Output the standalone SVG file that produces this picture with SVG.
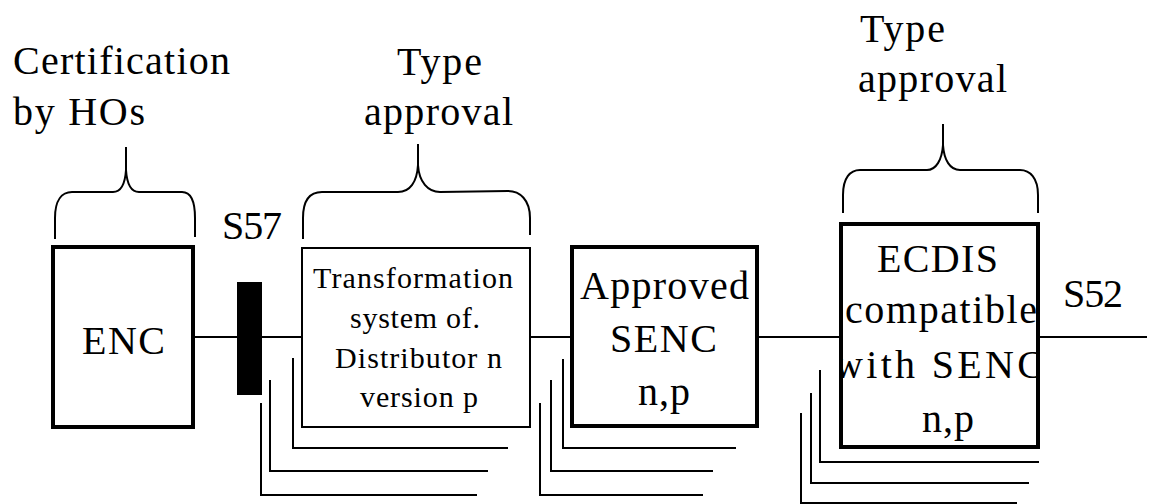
<svg xmlns="http://www.w3.org/2000/svg" width="1152" height="504" viewBox="0 0 1152 504">
<style>
text{fill:#000}
.lbl{font-size:40px}
.sm{font-size:30px}
.thick{fill:#fff;stroke:#000;stroke-width:4}
.thin{fill:#fff;stroke:#000;stroke-width:2}
.ln{fill:none;stroke:#000;stroke-width:2}
.br{fill:none;stroke:#000;stroke-width:2}
</style>
<defs>
<clipPath id="ecdisClip"><rect x="843" y="226" width="193" height="219"/></clipPath>
</defs>
<rect width="1152" height="504" fill="#fff"/>
<g id="connectors">
<line class="ln" x1="193" y1="337" x2="302" y2="337"/>
<line class="ln" x1="530" y1="337" x2="572" y2="337"/>
<line class="ln" x1="757" y1="337" x2="841" y2="337"/>
<line class="ln" x1="1038" y1="337" x2="1147" y2="337"/>
<polyline class="ln" points="293,358 293,448 508,448"/>
<polyline class="ln" points="270,380 270,471 488,471"/>
<polyline class="ln" points="261,403 261,495 477,495"/>
<polyline class="ln" points="563,359 563,448 736,448"/>
<polyline class="ln" points="551,380 551,471 713,471"/>
<polyline class="ln" points="540,403 540,495 703,495"/>
<polyline class="ln" points="820,370 820,462 1039,462"/>
<polyline class="ln" points="811,393 811,483 1029,483"/>
<polyline class="ln" points="801,413 801,503 1017,503"/>
</g>
<g font-family="'Liberation Serif', 'Times New Roman', 'DejaVu Serif', serif">
<g id="label-certification">
<text class="lbl" x="13" y="74" textLength="217" lengthAdjust="spacing">Certification</text>
<text class="lbl" x="13" y="125" textLength="132" lengthAdjust="spacing">by HOs</text>
<path class="br" d="M55,239 L55,218 C55,200 62,192 72,192 L113,192 C120,192 125,185 126,170 L126,147 M126,170 C127,185 132,192 139,192 L182,192 C190,192 195,200 195,218 L195,237"/>
</g>
<g id="label-type-approval-1">
<text class="lbl" x="397" y="75" textLength="85" lengthAdjust="spacing">Type</text>
<text class="lbl" x="364" y="125" textLength="149" lengthAdjust="spacing">approval</text>
<path class="br" d="M303,239 L303,218 C303,200 310,192 322,192 L398,192 C410,192 417,182 418,165 L418,144 M418,165 C419,182 428,192 440,192 L508,191 C520,191 530,200 530,218 L530,235"/>
</g>
<g id="label-type-approval-2">
<text class="lbl" x="860" y="42" textLength="85" lengthAdjust="spacing">Type</text>
<text class="lbl" x="858" y="92" textLength="149" lengthAdjust="spacing">approval</text>
<path class="br" d="M843,213 L843,195 C843,178 850,170 860,170 L927,170 C936,170 942,160 943,145 L943,124 M943,145 C944,160 950,170 960,170 L1020,170 C1030,170 1038,178 1038,195 L1038,213"/>
</g>
<g id="node-enc">
<rect class="thick" x="53" y="247" width="140" height="180"/>
<text class="lbl" x="82" y="354" textLength="83" lengthAdjust="spacing">ENC</text>
</g>
<g id="node-s57">
<rect x="237" y="282" width="25" height="113" fill="#000"/>
<text class="lbl" x="222" y="239" textLength="60" lengthAdjust="spacing" font-size="38">S57</text>
</g>
<g id="node-transformation">
<rect class="thin" x="302" y="248" width="228" height="179"/>
<text class="sm" x="313" y="288" textLength="200" lengthAdjust="spacing">Transformation</text>
<text class="sm" x="350" y="328" textLength="130" lengthAdjust="spacing">system of.</text>
<text class="sm" x="335" y="368" textLength="167" lengthAdjust="spacing">Distributor n</text>
<text class="sm" x="360" y="407" textLength="118" lengthAdjust="spacing">version p</text>
</g>
<g id="node-senc">
<rect class="thick" x="572" y="247" width="185" height="179"/>
<text class="lbl" x="580" y="299" textLength="169" lengthAdjust="spacing">Approved</text>
<text class="lbl" x="610" y="352" textLength="107" lengthAdjust="spacing">SENC</text>
<text class="lbl" x="638" y="405" textLength="52" lengthAdjust="spacing">n,p</text>
</g>
<g id="node-ecdis">
<rect class="thick" x="841" y="224" width="197" height="223"/>
<text class="lbl" x="877" y="272" textLength="121" lengthAdjust="spacing">ECDIS</text>
<text class="lbl" x="845" y="323" textLength="192" lengthAdjust="spacing">compatible</text>
<text class="lbl" x="834" y="378" textLength="210" lengthAdjust="spacing" clip-path="url(#ecdisClip)">with SENC</text>
<text class="lbl" x="922" y="432" textLength="52" lengthAdjust="spacing">n,p</text>
</g>
<g id="node-s52">
<text class="lbl" x="1063" y="307" textLength="60" lengthAdjust="spacing" font-size="38">S52</text>
</g>
</g>
</svg>
